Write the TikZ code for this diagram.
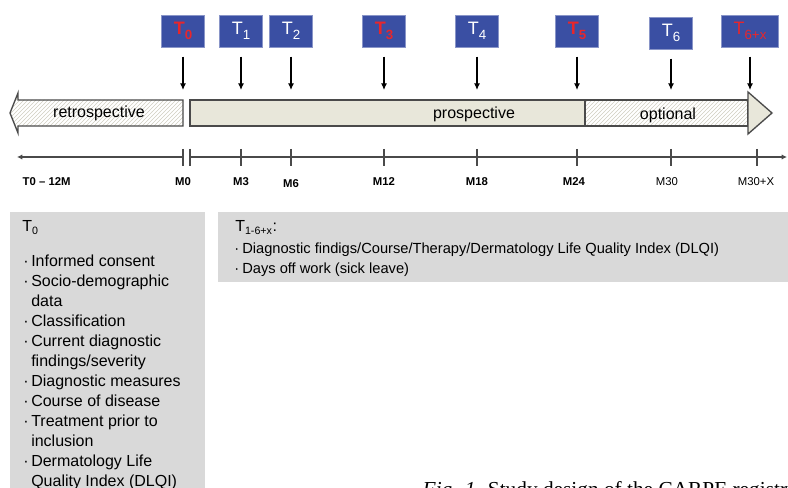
\documentclass[tikz,border=0pt]{standalone}
\usepackage{fontspec}
\setmainfont{Liberation Serif}
\setsansfont{Liberation Sans}
\usepackage{tikz}
\usetikzlibrary{arrows.meta,positioning,patterns}
\definecolor{tblue}{HTML}{3A4FA3}
\definecolor{tred}{HTML}{E8262B}
\definecolor{barfill}{HTML}{E8E7DA}
\definecolor{boxgray}{HTML}{D9D9D9}
\definecolor{hatchline}{HTML}{CFCDBF}
\definecolor{qframe}{HTML}{4A4A4A}
\newcommand{\tsub}[1]{\raisebox{-4pt}{\fontsize{10}{10}\selectfont#1}}
\newcommand{\itm}{\makebox[6pt][l]{\textperiodcentered}}
\newcommand{\ind}{\hspace*{6pt}}

\begin{document}
\begin{tikzpicture}[x=0.75pt,y=-0.75pt,
  tbox/.style={fill=tblue,draw=tblue!60!white,minimum width=32pt,minimum height=24pt,inner sep=0pt,
    font=\sffamily\fontsize{13.5}{13.5}\selectfont,text=white},
  tarrow/.style={draw=black,line width=0.8pt,-{Latex[length=5pt,width=4.5pt]},shorten <=7pt},
  bar/.style={draw=qframe,line width=1pt},
  hatched/.style={bar,pattern=north east lines,pattern color=hatchline},
  barlabel/.style={font=\sffamily\fontsize{12}{12}\selectfont},
  mlabel/.style={font=\sffamily\bfseries\fontsize{8.5}{8.5}\selectfont,anchor=base},
  info/.style={align=left,inner sep=0pt,anchor=north west,font=\sffamily\fontsize{12}{15}\selectfont},
  every edge/.style={draw=qframe,line width=0.8pt}, font=\sffamily]
\useasboundingbox (0,0) rectangle (788,488);
\node[tbox] (t0) at (183,31) {\bfseries\color{tred}T\tsub{0}};
\node[tbox] (t1) at (241,31) {T\tsub{1}};
\node[tbox] (t2) at (291,31) {T\tsub{2}};
\node[tbox] (t3) at (384,31) {\bfseries\color{tred}T\tsub{3}};
\node[tbox] (t4) at (477,31) {T\tsub{4}};
\node[tbox] (t5) at (577,31) {\bfseries\color{tred}T\tsub{5}};
\node[tbox] (t6) at (671,33) {T\tsub{6}};
\node[tbox,minimum width=43pt] (t6x) at (750,31) {\color{tred}T\tsub{6+x}};
\coordinate (bartop) at (0,90);
\foreach \n in {t0,t1,t2,t3,t4,t5,t6,t6x}
  \draw[tarrow] (\n.south) -- (\n.south |- bartop);
\draw[hatched] (183,100) -- (18,100) -- (18,93) -- (10,113) -- (18,133) -- (18,126) -- (183,126) -- cycle;
\draw[bar,fill=barfill] (190,100) rectangle (585,126);
\draw[hatched] (585,100) -- (748,100) -- (748,126) -- (585,126) -- cycle;
\draw[bar,fill=barfill] (748,92) -- (772,113) -- (748,134) -- cycle;
\node[barlabel] (retro) at (99,113) {retrospective};
\node[barlabel] (prosp) at (474,114) {prospective};
\node[barlabel] (opt) at (668,115) {optional};
\coordinate (axl) at (17,157);
\coordinate (m0) at (183,157);
\coordinate (m0r) at (190,157);
\coordinate (axr) at (787,157);
\draw[draw=qframe,line width=0.8pt,{Latex[length=4pt,width=4pt]}-] (axl) -- (m0);
\draw[draw=qframe,line width=0.8pt,-{Latex[length=4pt,width=4pt]}] (m0r) -- (axr);
\foreach \x in {183,190,241,291,384,477,577,671,757}
  \draw[draw=qframe,line width=0.8pt] (\x,149) -- (\x,166);
\node[mlabel,anchor=base west] (lm12) at (18,186) {T0 -- 12M};
\foreach \x/\y/\l in {183/186/M0,241/186/M3,291/188/M6,384/186/M12,477/186/M18,574/186/M24}
  \node[mlabel] at (\x,\y) {\l};
\node[mlabel,font=\sffamily\fontsize{8.5}{8.5}\selectfont] (lm30) at (667,186) {M30};
\node[mlabel,font=\sffamily\fontsize{8.5}{8.5}\selectfont] (lm30x) at (756,186) {M30+X};
\fill[boxgray] (10,212) rectangle (205,500);
\node[info,anchor=base west] (t0head) at (22,232) {T\textsubscript{0}};
\node[info] (t0items) at (23,255) {\itm Informed consent\\
  \itm Socio-demographic\\ \ind data\\
  \itm Classification\\
  \itm Current diagnostic\\ \ind findings/severity\\
  \itm Diagnostic measures\\
  \itm Course of disease\\
  \itm Treatment prior to\\ \ind inclusion\\
  \itm Dermatology Life\\ \ind Quality Index (DLQI)};
\fill[boxgray] (218,212) rectangle (788,282);
\node[info,anchor=base west] (txhead) at (235,232) {T\textsubscript{1-6+x}:};
\node[info,font=\sffamily\fontsize{11}{14.5}\selectfont] (txitems) at (234,243) {\itm Diagnostic findigs/Course/Therapy/Dermatology Life Quality Index (DLQI)\\
  \itm Days off work (sick leave)};
\node[anchor=base west,font=\rmfamily\fontsize{16}{16}\selectfont] (caption) at (418,496) {\textit{Fig. 1.} Study design of the CARPE registry};
\end{tikzpicture}
\end{document}
